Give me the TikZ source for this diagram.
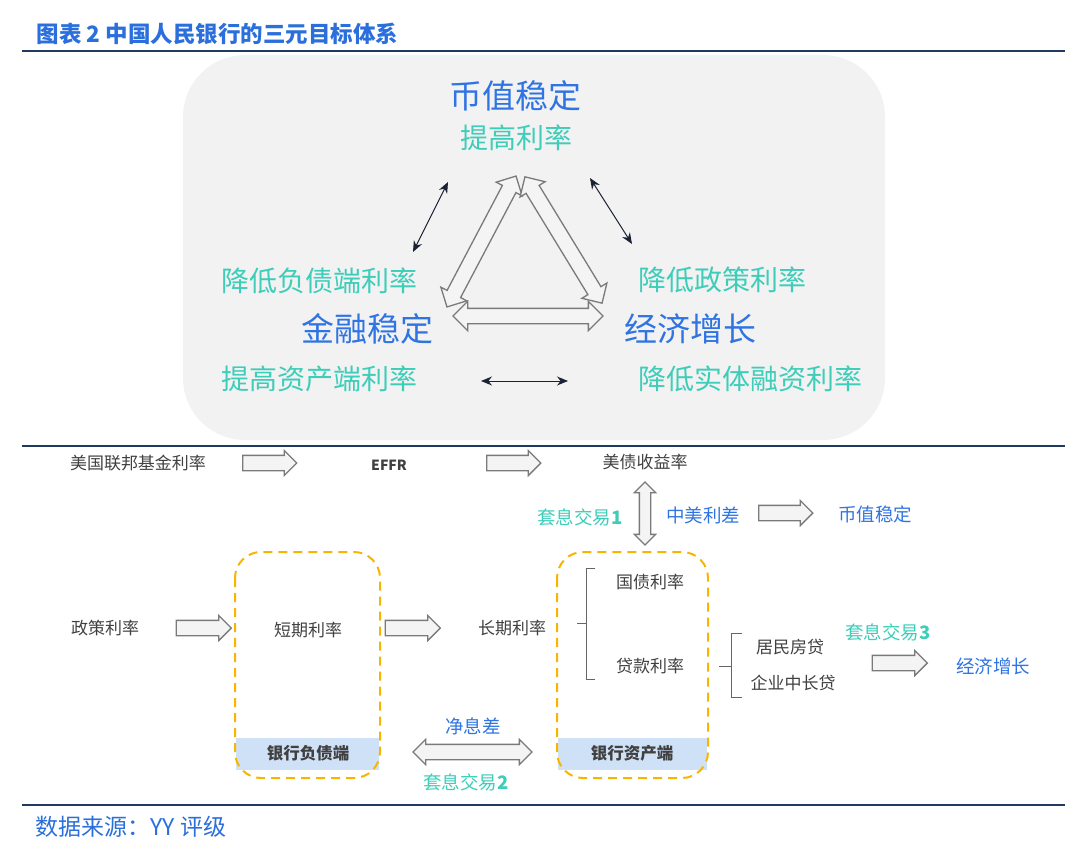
\documentclass[tikz,border=0pt]{standalone}
\usepackage{fontspec}
\setmainfont{Noto Sans CJK SC}
\usetikzlibrary{shapes.arrows,arrows.meta}

\definecolor{titleblue}{HTML}{2A6FDB}
\definecolor{goalblue}{HTML}{2F74E2}
\definecolor{levertxt}{HTML}{3DCDB9}
\definecolor{bodytxt}{HTML}{404040}
\definecolor{rulenavy}{HTML}{1F3A5C}
\definecolor{panelgray}{HTML}{F2F2F2}
\definecolor{arrowedge}{HTML}{7A7A7A}
\definecolor{arrowfill}{HTML}{F4F4F4}
\definecolor{boxorange}{HTML}{F7B500}
\definecolor{bandblue}{HTML}{CFE1F7}
\definecolor{thinarrow}{HTML}{1B2233}

\tikzset{
  goal/.style={text=goalblue, font=\fontsize{33}{36}\selectfont},
  lever/.style={text=levertxt, font=\fontsize{28}{31}\selectfont},
  plain/.style={text=bodytxt, font=\fontsize{17}{20}\selectfont},
  tagblue/.style={text=goalblue, font=\fontsize{18.5}{21}\selectfont},
  tagteal/.style={text=levertxt, font=\fontsize{18.5}{21}\selectfont},
  hollow/.style={single arrow, draw=arrowedge, fill=arrowfill, line width=1.3pt,
    inner sep=7, single arrow head extend=5, minimum height=#1},
  hollowtwo/.style={double arrow, draw=arrowedge, fill=arrowfill, line width=1.3pt,
    inner sep=7, double arrow head extend=5, minimum height=#1},
  thin/.style={thinarrow, line width=1pt, {Stealth[length=11pt,width=9pt]}-{Stealth[length=11pt,width=9pt]}},
  ratebox/.style={boxorange, line width=2pt, dash pattern=on 9pt off 6pt, rounded corners=26},
  band/.style={fill=bandblue, draw=none},
  brace/.style={draw=bodytxt!80, line width=1pt}
}

\begin{document}
\begin{tikzpicture}[x=1pt,y=-1pt]
    \useasboundingbox (0,0) rectangle (1080,859);

    % Title and rules
    \node[anchor=west, text=titleblue, font=\fontsize{22.5}{25}\selectfont\bfseries] (title) at (33,34) {图表 2 中国人民银行的三元目标体系};
    \draw[rulenavy, line width=1.6pt] (22,51) -- (1065,51);
    \draw[rulenavy, line width=1.6pt] (22,446) -- (1065,446);
    \draw[rulenavy, line width=1.6pt] (22,805) -- (1065,805);
    \node[anchor=west, text=titleblue, font=\fontsize{23}{26}\selectfont] (source) at (32,827) {数据来源：YY 评级};

    % Three goals
    \begin{scope}
        \fill[panelgray, rounded corners=62] (183,55) rectangle (885,440);
        \node[goal] (fx) at (515,96) {币值稳定};
        \node[lever] (fxlever) at (516,138) {提高利率};
        \node[lever] (finlev1) at (319,281) {降低负债端利率};
        \node[goal] (fin) at (367,329) {金融稳定};
        \node[lever] (finlev2) at (319,379) {提高资产端利率};
        \node[lever] (growlev1) at (722,280) {降低政策利率};
        \node[goal] (grow) at (690,329) {经济增长};
        \node[lever] (growlev2) at (750,379) {降低实体融资利率};

        % Triangle of hollow arrows
        \node[hollowtwo=148, double arrow head extend=7, rotate=62.2] (sideL) at (481.5,241.5) {};
        \node[hollowtwo=148, double arrow head extend=7, rotate=121.4] (sideR) at (563.5,240) {};
        \node[hollowtwo=150, double arrow head extend=7] (sideB) at (528,316) {};

        % Trade-off arrows
        \coordinate (tl1) at (448,182);
        \coordinate (tl2) at (413,252);
        \coordinate (tr1) at (590,178);
        \coordinate (tr2) at (632,244);
        \coordinate (tb1) at (481,381);
        \coordinate (tb2) at (568,381);
        \draw[thin] (tl1) -- (tl2);
        \draw[thin] (tr1) -- (tr2);
        \draw[thin] (tb1) -- (tb2);
    \end{scope}

    % Transmission chain
    \begin{scope}
        \node[plain] (fed) at (138,463) {美国联邦基金利率};
        \node[hollow=54] (a1) at (266,463) {};
        \node[text=bodytxt, font=\fontsize{14}{17}\selectfont\bfseries] (effr) at (389,465) {EFFR};
        \node[hollow=54] (a2) at (510,463) {};
        \node[plain] (ust) at (645,462) {美债收益率};
        \node[hollowtwo=63, inner sep=5, rotate=90] (a3) at (645,513.5) {};
        \node[tagteal] (carry1) at (580,517) {套息交易\textbf{1}};
        \node[tagblue] (spread) at (703,515) {中美利差};
        \node[hollow=54] (a4) at (782,513) {};
        \node[tagblue] (fx2) at (875,514) {币值稳定};

        % Bank balance sheet boxes
        \fill[band] (236,738) rectangle (379,770);
        \fill[band] (558,738) rectangle (707,770);
        \draw[ratebox] (235,552) rectangle (380,778);
        \draw[ratebox] (557,552) rectangle (708,778);
        \node[text=bodytxt, font=\fontsize{16.5}{19}\selectfont\bfseries] (liab) at (308,753) {银行负债端};
        \node[text=bodytxt, font=\fontsize{16.5}{19}\selectfont\bfseries] (asset) at (632,753) {银行资产端};

        \node[plain] (policy) at (105,628) {政策利率};
        \node[hollow=55] (a5) at (200,628) {};
        \node[plain] (short) at (308,630) {短期利率};
        \node[hollow=55] (a6) at (409,628) {};
        \node[plain] (long) at (512,628) {长期利率};

        \draw[brace] (595,568) -- (586,568) -- (586,679) -- (595,679);
        \draw[brace] (577,623) -- (586,623);
        \node[plain] (govt) at (650,582) {国债利率};
        \node[plain] (loan) at (650,666) {贷款利率};

        \draw[brace] (742,633) -- (731,633) -- (731,697) -- (742,697);
        \draw[brace] (719,666) -- (731,666);
        \node[plain] (house) at (790,647) {居民房贷};
        \node[plain] (corp) at (793,683) {企业中长贷};

        \node[tagteal] (carry3) at (888,632) {套息交易\textbf{3}};
        \node[hollow=55] (a7) at (896,663) {};
        \node[tagblue] (grow2) at (993,666) {经济增长};

        \node[tagblue] (nim) at (473,726) {净息差};
        \node[hollowtwo=119] (a8) at (472.5,752) {};
        \node[tagteal] (carry2) at (466,782) {套息交易\textbf{2}};
    \end{scope}
\end{tikzpicture}
\end{document}
